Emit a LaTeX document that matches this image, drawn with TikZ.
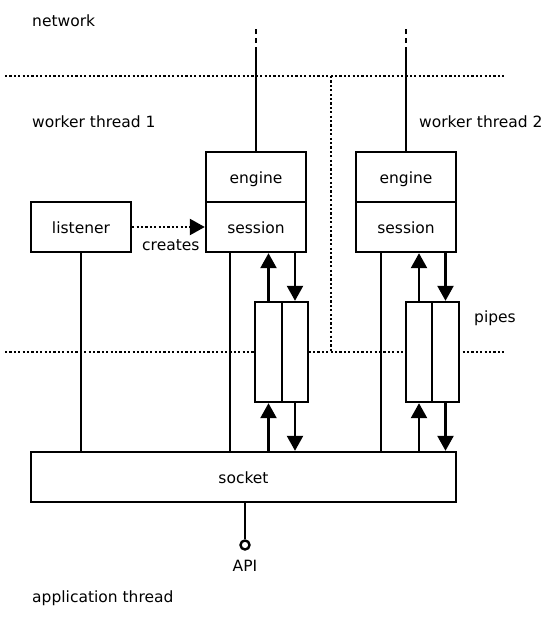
\documentclass[tikz,border=0pt]{standalone}
\usepackage{fontspec}
\setmainfont{DejaVu Sans}
\usetikzlibrary{arrows.meta}

\begin{document}
\begin{tikzpicture}[x=1pt,y=-1pt,line width=2.4pt,
  every node/.style={font=\fontsize{15.5}{18}\selectfont},
  box/.style={draw,fill=white,minimum width=100pt,minimum height=50pt,inner sep=0pt,text height=14pt,text depth=2pt},
  pipe/.style={draw,fill=white,minimum width=26.5pt,minimum height=100pt,inner sep=0pt},
  lbl/.style={anchor=base west,inner sep=0pt},
  sep/.style={dash pattern=on 2.2pt off 2.2pt},
  flow/.style={-{Triangle[length=15pt,width=16pt]}}]
      \useasboundingbox (0,0) rectangle (558,618);
      % Separadores
      \draw[sep] (5,76) -- (505,76);
      \draw[sep] (5,352) -- (505,352);
      \draw[sep] (331,76) -- (331,352);
      % Textos
      \node[lbl] (net) at (31,27) {network};
      \node[lbl] (wt1) at (31,127) {worker thread 1};
      \node[lbl] (wt2) at (418,127) {worker thread 2};
      \node[lbl] (pip) at (473,322) {pipes};
      \node[lbl] (app) at (31,602) {application thread};
      % Nodos
      \node[box] (lis) at (81,227) {listener};
      \node[box] (e1) at (256,177) {engine};
      \node[box] (s1) at (256,227) {session};
      \node[box] (e2) at (406,177) {engine};
      \node[box] (s2) at (406,227) {session};
      \node[pipe] (p1a) at (268.5,352) {};
      \node[pipe] (p1b) at (295,352) {};
      \node[pipe] (p2a) at (419,352) {};
      \node[pipe] (p2b) at (445.5,352) {};
      \node[box,minimum width=425pt] (sock) at (243.5,477) {socket};
      \node[circle,draw,minimum size=9pt,inner sep=0pt] (api) at (245,545) {};
      \node[anchor=base,inner sep=0pt] (apil) at (245,571) {API};
      % Red
      \coordinate (n1) at (256,52);
      \coordinate (n1t) at (256,27);
      \coordinate (n2) at (406,52);
      \coordinate (n2t) at (406,27);
      \draw (e1.north) -- (n1);
      \draw[dash pattern=on 5pt off 4pt] (n1) -- (n1t);
      \draw (e2.north) -- (n2);
      \draw[dash pattern=on 5pt off 4pt] (n2) -- (n2t);
      % Aristas
      \draw[flow,sep] (lis) -- (s1);
      \node[lbl] (cr) at (141,250) {creates};
      \draw (lis.south) -- (lis.south |- sock.north);
      \draw ([xshift=25pt]s1.south west) -- ([xshift=25pt]s1.south west |- sock.north);
      \draw ([xshift=26pt]s2.south west) -- ([xshift=26pt]s2.south west |- sock.north);
      \draw[flow] (p1a.north) -- (p1a.north |- s1.south);
      \draw[flow] (p1b.north |- s1.south) -- (p1b.north);
      \draw[flow] (p1a.south |- sock.north) -- (p1a.south);
      \draw[flow] (p1b.south) -- (p1b.south |- sock.north);
      \draw[flow] (p2a.north) -- (p2a.north |- s2.south);
      \draw[flow] (p2b.north |- s2.south) -- (p2b.north);
      \draw[flow] (p2a.south |- sock.north) -- (p2a.south);
      \draw[flow] (p2b.south) -- (p2b.south |- sock.north);
      \draw (api.north |- sock.south) -- (api.north);
    \end{tikzpicture}
\end{document}
